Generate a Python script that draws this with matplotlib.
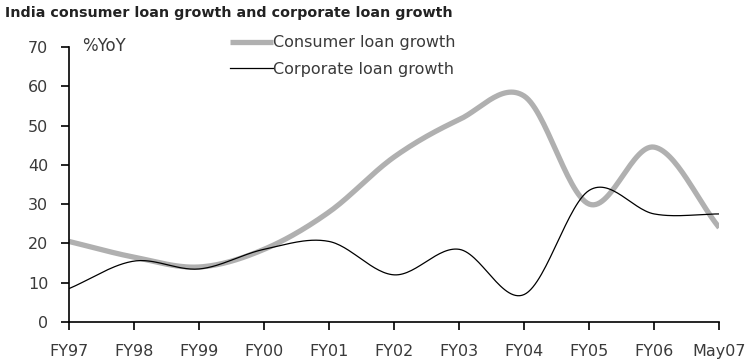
import numpy as np
import matplotlib.pyplot as plt

periods = ["FY97", "FY98", "FY99", "FY00", "FY01", "FY02", "FY03", "FY04", "FY05", "FY06", "May07"]
consumer = [20.5, 16.5, 14.0, 18.5, 28.0, 42.0, 51.5, 57.5, 30.0, 44.5, 24.0]
corporate = [8.5, 15.5, 13.5, 18.5, 20.5, 12.0, 18.5, 7.0, 33.5, 27.5, 27.5]


def smooth(y, n=30):
    # Catmull-Rom spline through the points (Excel-style smoothed line)
    y = np.asarray(y, dtype=float)
    p = np.concatenate([[2 * y[0] - y[1]], y, [2 * y[-1] - y[-2]]])
    xs, ys = [], []
    for i in range(len(y) - 1):
        p0, p1, p2, p3 = p[i], p[i + 1], p[i + 2], p[i + 3]
        t = np.linspace(0, 1, n, endpoint=False)
        v = 0.5 * (2 * p1 + (-p0 + p2) * t + (2 * p0 - 5 * p1 + 4 * p2 - p3) * t ** 2
                   + (-p0 + 3 * p1 - 3 * p2 + p3) * t ** 3)
        xs.append(i + t)
        ys.append(v)
    xs.append([len(y) - 1])
    ys.append([y[-1]])
    return np.concatenate(xs), np.concatenate(ys)


plt.rcParams["font.family"] = "DejaVu Sans"
fig = plt.figure(figsize=(7.5, 3.61), dpi=100)
ax = fig.add_axes([0.092, 0.108, 0.867, 0.762])

x1, y1 = smooth(consumer)
x2, y2 = smooth(corporate)
ax.plot(x1, y1, color="#b0b0b0", linewidth=3.8, solid_capstyle="butt", label="Consumer loan growth")
ax.plot(x2, y2, color="black", linewidth=0.9, label="Corporate loan growth")

ax.set_xlim(0, len(periods) - 1)
ax.set_ylim(0, 70)
ax.set_xticks(range(len(periods)))
ax.set_xticklabels(periods)
ax.set_yticks(range(0, 71, 10))
for s in ["top", "right"]:
    ax.spines[s].set_visible(False)
for s in ["left", "bottom"]:
    ax.spines[s].set_linewidth(1.2)
    ax.spines[s].set_clip_on(False)
ax.tick_params(axis="both", direction="out", length=6, width=1.2, labelsize=11.5,
               labelcolor="#3a3a3a")
ax.tick_params(axis="y", pad=9)
ax.tick_params(axis="x", pad=10)

ax.text(0.2, 70.3, "%YoY", fontsize=12, color="#3a3a3a", va="center")
ax.legend(loc="upper left", bbox_to_anchor=(0.226, 1.095), frameon=False, fontsize=11.5,
          handlelength=2.7, handletextpad=0.0, labelspacing=0.72, labelcolor="#3a3a3a")

fig.text(0.007, 0.964, "India consumer loan growth and corporate loan growth",
         fontsize=10.3, fontweight="bold", color="#222222", va="center")

plt.savefig("out.png", dpi=100)
